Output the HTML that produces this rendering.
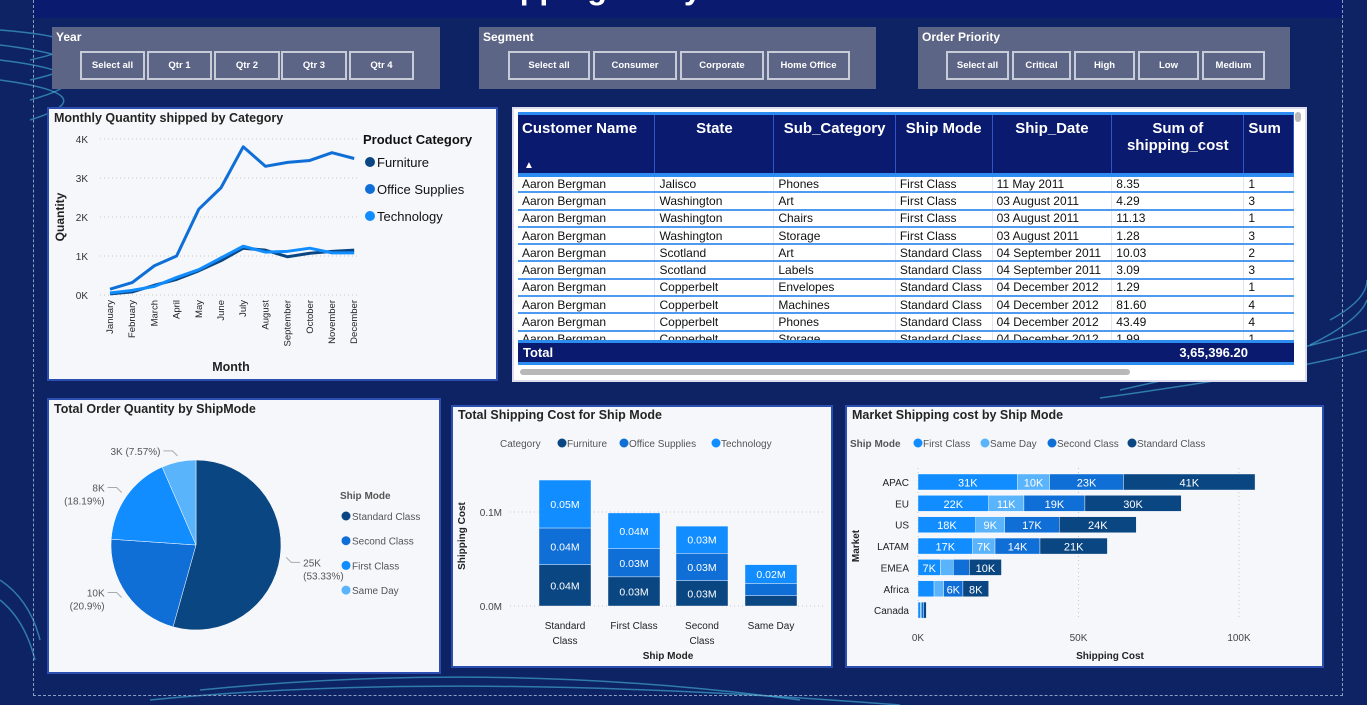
<!DOCTYPE html>
<html><head><meta charset="utf-8"><style>
*{box-sizing:border-box;margin:0;padding:0}
body{width:1367px;height:705px;overflow:hidden;position:relative;background:#0d2364;font-family:"Liberation Sans",sans-serif}
.abs{position:absolute}
.panel{position:absolute;background:#f5f7fb;border:2px solid #2a4fb0}
.slicer{position:absolute;background:#5d6586;color:#fff;font-weight:bold;font-size:12px}
.slicer .t{position:absolute;left:4px;top:3px}
.btn{position:absolute;top:24px;height:29px;border:2px solid #c8cbd8;color:#fff;font-size:9.5px;font-weight:bold;display:flex;align-items:center;justify-content:center}
.ptitle{position:absolute;left:5px;top:2px;font-size:12.5px;font-weight:bold;color:#252423}
table{border-collapse:collapse;table-layout:fixed;font-size:12px}
td{height:17.3px;padding:0 4px;border-bottom:2px solid #4d9af0;border-right:1px solid #dfe6f0;white-space:nowrap;overflow:hidden;color:#111}
th{background:#0a1a6e;color:#fff;font-size:15px;height:60px;vertical-align:top;padding:5px 4px 0 4px;border-right:1px solid #2e56c8;font-weight:bold}
</style></head><body>
<svg class="abs" style="left:0;top:0" width="1367" height="705">
<g fill="none" stroke="#4fc3e8" stroke-opacity="0.55" stroke-width="1.5">
<path d="M0 30 Q120 40 30 60"/><path d="M0 45 Q120 60 30 80"/><path d="M0 60 Q120 75 30 100"/><path d="M0 80 Q110 95 30 120"/>
<path d="M1330 320 Q1367 300 1367 280"/><path d="M1310 345 Q1360 320 1367 300"/>
<path d="M1120 390 Q1300 350 1367 330"/><path d="M1100 398 Q1300 370 1367 350"/>
<path d="M0 580 Q30 600 40 640"/><path d="M0 600 Q25 620 35 660"/>
<path d="M200 690 Q500 660 800 700"/><path d="M150 700 Q450 670 900 705"/>
</g></svg>
<div class="abs" style="left:33px;top:0;width:1310px;height:18px;background:#0a1a6e"></div>
<div class="abs" style="left:470px;top:-30px;color:#fff;font-size:32px;font-weight:bold">Shipping Analysis</div>
<div class="abs" style="left:33px;top:0;width:1310px;height:696px;border-left:1px dashed #8a9cc0;border-bottom:1px dashed #8a9cc0;border-right:1px dashed #8a9cc0"></div>

<div class="slicer" style="left:52px;top:27px;width:388px;height:62px"><span class="t">Year</span>
<div class="btn" style="left:28px;width:65px">Select all</div>
<div class="btn" style="left:95px;width:65px">Qtr 1</div>
<div class="btn" style="left:162px;width:66px">Qtr 2</div>
<div class="btn" style="left:229px;width:66px">Qtr 3</div>
<div class="btn" style="left:297px;width:65px">Qtr 4</div></div>
<div class="slicer" style="left:479px;top:27px;width:397px;height:62px"><span class="t">Segment</span>
<div class="btn" style="left:29px;width:82px">Select all</div>
<div class="btn" style="left:114px;width:84px">Consumer</div>
<div class="btn" style="left:201px;width:84px">Corporate</div>
<div class="btn" style="left:288px;width:83px">Home Office</div></div>
<div class="slicer" style="left:918px;top:27px;width:372px;height:62px"><span class="t">Order Priority</span>
<div class="btn" style="left:28px;width:63px">Select all</div>
<div class="btn" style="left:94px;width:59px">Critical</div>
<div class="btn" style="left:156px;width:61px">High</div>
<div class="btn" style="left:220px;width:61px">Low</div>
<div class="btn" style="left:284px;width:63px">Medium</div></div>

<div class="panel" style="left:47px;top:107px;width:451px;height:274px"><div class="ptitle">Monthly Quantity shipped by Category</div></div>
<svg id="line" class="abs" style="left:0;top:0" width="1367" height="705"></svg>

<div class="panel" style="left:512px;top:107px;width:795px;height:275px;background:#fff;border-color:#dde">
<div class="abs" style="left:4px;top:3px;width:776px;height:256px;overflow:hidden">
<div style="height:3px;background:#2d8cf0"></div>
<table id="tbl"><colgroup><col style="width:139px"><col style="width:121px"><col style="width:122px"><col style="width:97px"><col style="width:120px"><col style="width:133px"><col style="width:50px"></colgroup>
<thead><tr style="border-bottom:4px solid #2d8cf0"><th style="text-align:left;position:relative">Customer Name<span style="position:absolute;left:6px;bottom:2px;font-size:10px">▲</span></th><th>State</th><th>Sub_Category</th><th>Ship Mode</th><th>Ship_Date</th><th>Sum of shipping_cost</th><th style="text-align:left">Sum</th></tr></thead>
<tbody id="tb"></tbody></table>
</div>
<div class="abs" style="left:4px;top:231px;width:776px;height:25px;background:#0a1a6e;border-top:3px solid #2d8cf0;border-bottom:3px solid #2d8cf0;color:#fff;font-weight:bold;font-size:13px"><span class="abs" style="left:5px;top:2px">Total</span><span class="abs" style="left:600px;top:2px;width:130px;text-align:right">3,65,396.20</span></div>
<div class="abs" style="left:6px;top:260px;width:610px;height:6px;border-radius:3px;background:#b8b8b8"></div>
<div class="abs" style="left:781px;top:3px;width:6px;height:10px;border-radius:3px;background:#b8b8b8"></div>
</div>

<div class="panel" style="left:47px;top:398px;width:394px;height:276px"><div class="ptitle">Total Order Quantity by ShipMode</div></div>
<div class="panel" style="left:451px;top:405px;width:382px;height:263px"><div class="ptitle" style="top:1px">Total Shipping Cost for Ship Mode</div></div>
<div class="panel" style="left:845px;top:405px;width:479px;height:263px"><div class="ptitle" style="top:1px">Market Shipping cost by Ship Mode</div></div>
<svg id="charts" class="abs" style="left:0;top:0" width="1367" height="705"></svg>

<script>
const months=["January","February","March","April","May","June","July","August","September","October","November","December"];
const furniture=[0.03,0.08,0.25,0.4,0.62,0.88,1.2,1.15,0.98,1.07,1.12,1.15];
const officeSupplies=[0.15,0.32,0.75,1.0,2.2,2.75,3.8,3.3,3.4,3.45,3.65,3.5];
const technology=[0.05,0.12,0.22,0.45,0.65,0.95,1.25,1.1,1.12,1.2,1.08,1.08];
const lineTicks=[0,1,2,3,4];
const tableRows=[["Aaron Bergman","Jalisco","Phones","First Class","11 May 2011","8.35","1"],["Aaron Bergman","Washington","Art","First Class","03 August 2011","4.29","3"],["Aaron Bergman","Washington","Chairs","First Class","03 August 2011","11.13","1"],["Aaron Bergman","Washington","Storage","First Class","03 August 2011","1.28","3"],["Aaron Bergman","Scotland","Art","Standard Class","04 September 2011","10.03","2"],["Aaron Bergman","Scotland","Labels","Standard Class","04 September 2011","3.09","3"],["Aaron Bergman","Copperbelt","Envelopes","Standard Class","04 December 2012","1.29","1"],["Aaron Bergman","Copperbelt","Machines","Standard Class","04 December 2012","81.60","4"],["Aaron Bergman","Copperbelt","Phones","Standard Class","04 December 2012","43.49","4"],["Aaron Bergman","Copperbelt","Storage","Standard Class","04 December 2012","1.99","1"]];
const pieLabels=["Standard Class","Second Class","First Class","Same Day"];
const pieValues=[25,10,8,3];
const piePct=["53.33%","20.9%","18.19%","7.57%"];
const colModes=["Standard Class","First Class","Second Class","Same Day"];
const colFurniture=[0.044,0.031,0.027,0.011];
const colOffice=[0.039,0.030,0.029,0.013];
const colTech=[0.051,0.038,0.029,0.020];
const colTicks=[0,0.1];
const markets=["APAC","EU","US","LATAM","EMEA","Africa","Canada"];
const mFirst=[31,22,18,17,7,5,0.7];
const mSame=[10,11,9,7,4,3,0.3];
const mSecond=[23,19,17,14,5,6,0.8];
const mStandard=[41,30,24,21,10,8,0.8];
const barTicks=[0,50,100];

const NS="http://www.w3.org/2000/svg";
function mk(parent,tag,attrs,text){const e=document.createElementNS(NS,tag);for(const k in attrs)e.setAttribute(k,attrs[k]);if(text!==undefined)e.textContent=text;parent.appendChild(e);return e;}
const C={furn:"#0a4682",off:"#0f6fd6",tech:"#118dff",same:"#5ab4fb"};

const tb=document.getElementById('tb');
tableRows.forEach((r,i)=>{const tr=document.createElement('tr');


r.forEach(c=>{const td=document.createElement('td');td.textContent=c;tr.appendChild(td);});tb.appendChild(tr);});

const L=document.getElementById('line');
const lx=i=>110+i*22.2, ly=v=>295-v*39;
lineTicks.forEach(t=>{mk(L,'line',{x1:100,x2:358,y1:ly(t),y2:ly(t),stroke:'#c8c8c8','stroke-dasharray':'1 3'});
const tl=mk(L,'text',{x:88,y:ly(t)+4,'font-size':10,fill:'#333','text-anchor':'end'},t+'K');

});
months.forEach((m,i)=>{const t=mk(L,'text',{transform:`translate(${lx(i)+3},300) rotate(-90)`,'font-size':9.5,fill:'#222','text-anchor':'end'},m);

});
[[furniture,C.furn,'furniture-line'],[technology,C.tech,'technology-line'],[officeSupplies,C.off,'office-supplies-line']].forEach(([d,c,n])=>{
const p=mk(L,'polyline',{points:d.map((v,i)=>lx(i)+','+ly(v)).join(' '),fill:'none',stroke:c,'stroke-width':3,'stroke-linejoin':'round'});

});
mk(L,'text',{x:64,y:217,'font-size':12,'font-weight':'bold',fill:'#222','text-anchor':'middle',transform:'rotate(-90 64 217)'},'Quantity');
mk(L,'text',{x:231,y:371,'font-size':12.5,'font-weight':'bold',fill:'#222','text-anchor':'middle'},'Month');
mk(L,'text',{x:363,y:144,'font-size':13,'font-weight':'bold',fill:'#111'},'Product Category');
[['Furniture',C.furn],['Office Supplies',C.off],['Technology',C.tech]].forEach(([n,c],i)=>{const y=162+i*27;
mk(L,'circle',{cx:370,cy:y,r:5,fill:c});const t=mk(L,'text',{x:377,y:y+5,'font-size':13,fill:'#111'},n);

});

const S=document.getElementById('charts');
const pcx=196,pcy=545,pr=85,tot=pieValues.reduce((a,b)=>a+b,0);
const pieCols=[C.furn,C.off,C.tech,C.same];
let a0=0;
pieValues.forEach((v,i)=>{const a1=a0+v/tot*2*Math.PI;
const p=(a)=>[pcx+pr*Math.sin(a),pcy-pr*Math.cos(a)];
const [x0,y0]=p(a0),[x1,y1]=p(a1);
const s=mk(S,'path',{d:`M${pcx},${pcy} L${x0},${y0} A${pr},${pr} 0 ${a1-a0>Math.PI?1:0} 1 ${x1},${y1} Z`,fill:pieCols[i],stroke:'#fff','stroke-width':0.5});


const am=(a0+a1)/2,[ex,ey]=[pcx+(pr+6)*Math.sin(am),pcy-(pr+6)*Math.cos(am)];
const right=Math.sin(am)>0;const lx2=ex+(right?14:-14);
mk(S,'polyline',{points:`${ex},${ey} ${ex+(right?5:-5)},${ey+(right?5:-5)} ${lx2},${ey+(right?5:-5)}`,fill:'none',stroke:'#aaa'});
const ty=ey+(right?5:-5);const anc=right?'start':'end';const tx=lx2+(right?3:-3);
let lbl;
if(i===3){lbl=mk(S,'text',{x:tx,y:ty+4,'font-size':10,fill:'#555','text-anchor':anc},v+'K ('+piePct[i]+')');}
else{lbl=mk(S,'text',{x:tx,y:ty+4,'font-size':10,fill:'#555','text-anchor':anc},v+'K');
mk(S,'text',{x:tx,y:ty+17,'font-size':10,fill:'#555','text-anchor':anc},'('+piePct[i]+')');}


a0=a1;});
mk(S,'text',{x:340,y:499,'font-size':10,'font-weight':'bold',fill:'#555'},'Ship Mode');
pieLabels.forEach((n,i)=>{const y=516+i*24.7;mk(S,'circle',{cx:346,cy:y,r:4.5,fill:pieCols[i]});
const t=mk(S,'text',{x:352,y:y+4,'font-size':10,fill:'#555'},n);

});

const cy=v=>606-v*940;const cx0=[539,608,676,745];
colTicks.forEach(t=>{mk(S,'line',{x1:510,x2:825,y1:cy(t),y2:cy(t),stroke:'#c8c8c8','stroke-dasharray':'1 3'});
mk(S,'text',{x:502,y:cy(t)+4,'font-size':10,fill:'#444','text-anchor':'end'},t.toFixed(1)+'M');});
colModes.forEach((m,i)=>{let base=0;const x=cx0[i];
[[colFurniture,C.furn],[colOffice,C.off],[colTech,C.tech]].forEach(([d,c])=>{const v=d[i];
const r=mk(S,'rect',{x:x,y:cy(base+v),width:52,height:v*940,fill:c,stroke:'#fff','stroke-width':0.4});


if(v*940>18)mk(S,'text',{x:x+26,y:cy(base+v/2)+4,'font-size':10.5,fill:'#fff','text-anchor':'middle'},v.toFixed(2)+'M');
base+=v;});
const w=m.split(' ');const two=(m==='Standard Class'||m==='Second Class');
if(two){mk(S,'text',{x:x+26,y:629,'font-size':10,fill:'#222','text-anchor':'middle'},w[0]);mk(S,'text',{x:x+26,y:644,'font-size':10,fill:'#222','text-anchor':'middle'},w[1]);}
else mk(S,'text',{x:x+26,y:629,'font-size':10,fill:'#222','text-anchor':'middle'},m);});
mk(S,'text',{x:668,y:659,'font-size':10,'font-weight':'bold',fill:'#222','text-anchor':'middle'},'Ship Mode');
mk(S,'text',{x:465,y:536,'font-size':10,'font-weight':'bold',fill:'#222','text-anchor':'middle',transform:'rotate(-90 465 536)'},'Shipping Cost');
mk(S,'text',{x:500,y:447,'font-size':10,fill:'#555'},'Category');
[['Furniture',C.furn,560],['Office Supplies',C.off,622],['Technology',C.tech,714]].forEach(([n,c,x])=>{mk(S,'circle',{cx:x+2,cy:443,r:4.5,fill:c});
const t=mk(S,'text',{x:x+7,y:447,'font-size':10,fill:'#555'},n);

});

const bx=v=>918+v*3.21;const by=i=>482+i*21.35;
barTicks.forEach(t=>{mk(S,'line',{x1:bx(t),x2:bx(t),y1:468,y2:620,stroke:'#c8c8c8','stroke-dasharray':'1 3'});
mk(S,'text',{x:bx(t),y:641,'font-size':10,fill:'#444','text-anchor':'middle'},t+'K');});
markets.forEach((m,i)=>{let base=0;const y=by(i);
mk(S,'text',{x:909,y:y+4,'font-size':10,fill:'#222','text-anchor':'end'},m);
[[mFirst,C.tech],[mSame,C.same],[mSecond,C.off],[mStandard,C.furn]].forEach(([d,c])=>{const v=d[i];
const r=mk(S,'rect',{x:bx(base),y:y-8,width:v*3.21,height:16,fill:c,stroke:'#fff','stroke-width':0.4});


if(v*3.21>18)mk(S,'text',{x:bx(base+v/2),y:y+4.5,'font-size':11,fill:'#fff','text-anchor':'middle'},Math.round(v)+'K');
base+=v;});});
mk(S,'text',{x:1110,y:659,'font-size':10,'font-weight':'bold',fill:'#222','text-anchor':'middle'},'Shipping Cost');
mk(S,'text',{x:859,y:546,'font-size':10,'font-weight':'bold',fill:'#222','text-anchor':'middle',transform:'rotate(-90 859 546)'},'Market');
mk(S,'text',{x:850,y:447,'font-size':10,'font-weight':'bold',fill:'#555'},'Ship Mode');
[['First Class',C.tech,914],['Same Day',C.same,981],['Second Class',C.off,1048],['Standard Class',C.furn,1128]].forEach(([n,c,x])=>{mk(S,'circle',{cx:x+4,cy:443,r:4.5,fill:c});
const t=mk(S,'text',{x:x+9,y:447,'font-size':10,fill:'#555'},n);

});
</script>
</body></html>
